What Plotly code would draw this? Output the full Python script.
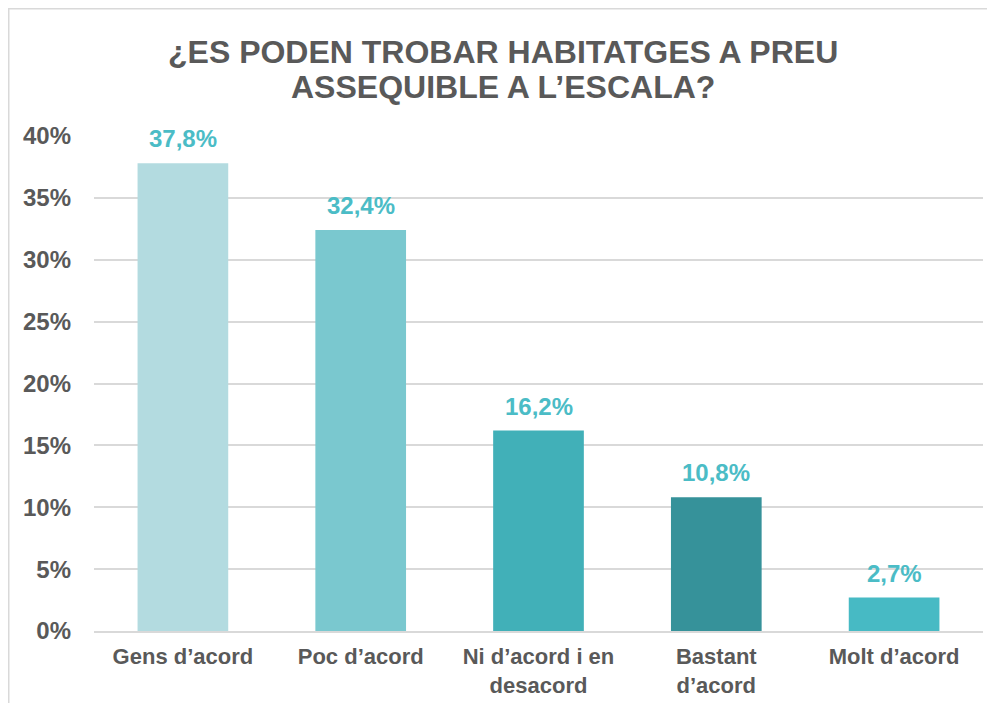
import plotly.graph_objects as go

categories = ["Gens d’acord", "Poc d’acord", "Ni d’acord i en<br>desacord", "Bastant<br>d’acord", "Molt d’acord"]
values = [37.8, 32.4, 16.2, 10.8, 2.7]
bar_colors = ["#B3DBE0", "#7AC8CF", "#41B0B8", "#36929A", "#47BAC4"]
tick_vals = [0, 5, 10, 15, 20, 25, 30, 35, 40]
tick_text = [f"{v}%" for v in tick_vals]
title_lines = ["¿ES PODEN TROBAR HABITATGES A PREU", "ASSEQUIBLE A L’ESCALA?"]

# page body has an 8px margin, so the figure is 8px smaller than the window
W, H = 987, 695
L, R, T, B = 86, 12, 128, 72
pw, ph = W - L - R, H - T - B

def px_x(p):
    return (p - L) / pw

def px_y(p):
    return (H - B - p) / ph

FONT = "Liberation Sans, Arial, sans-serif"
GREY = "#595959"
LABEL = "#4BBCC6"

fig = go.Figure()
fig.add_trace(go.Bar(
    x=categories, y=values,
    marker=dict(color=bar_colors, line=dict(width=0)),
    hoverinfo="skip",
))

annotations = []
for c, v in zip(categories, values):
    annotations.append(dict(
        x=c, y=v, xref="x", yref="y",
        text=f"{v:.1f}".replace(".", ",") + "%",
        showarrow=False, yanchor="bottom", yshift=9,
        font=dict(family=FONT, size=24, color=LABEL, weight="bold"),
    ))
for line, py in zip(title_lines, [44, 79]):
    annotations.append(dict(
        x=px_x(495), y=px_y(py), xref="paper", yref="paper",
        text=line, showarrow=False, xanchor="center", yanchor="middle",
        font=dict(family=FONT, size=32, color=GREY, weight="bold"),
    ))

shapes = [
    dict(type="line", xref="paper", yref="paper",
         x0=px_x(0), x1=px_x(W), y0=px_y(0.5), y1=px_y(0.5),
         line=dict(color="#D9D9D9", width=2)),
    dict(type="line", xref="paper", yref="paper",
         x0=px_x(0.5), x1=px_x(0.5), y0=px_y(0), y1=px_y(H),
         line=dict(color="#D9D9D9", width=2)),
]

fig.update_layout(
    width=W, height=H,
    margin=dict(l=L, r=R, t=T, b=B, pad=0, autoexpand=False),
    paper_bgcolor="white", plot_bgcolor="white",
    bargap=0.49,
    showlegend=False,
    annotations=annotations,
    shapes=shapes,
    font=dict(family=FONT, color=GREY),
)
fig.update_xaxes(
    automargin=False,
    showgrid=False, showline=True, linecolor="#D9D9D9", linewidth=2,
    ticks="", tickfont=dict(family=FONT, size=22, color=GREY, weight="bold"),
    ticklabelstandoff=5,
)
fig.update_yaxes(
    automargin=False,
    range=[0, 40], tickvals=tick_vals, ticktext=tick_text,
    showgrid=True, gridcolor="#D9D9D9", gridwidth=1.5,
    zeroline=False, showline=False, ticks="",
    tickfont=dict(family=FONT, size=24, color=GREY, weight="bold"),
    ticklabelstandoff=22,
)

fig.write_html("out.html")
